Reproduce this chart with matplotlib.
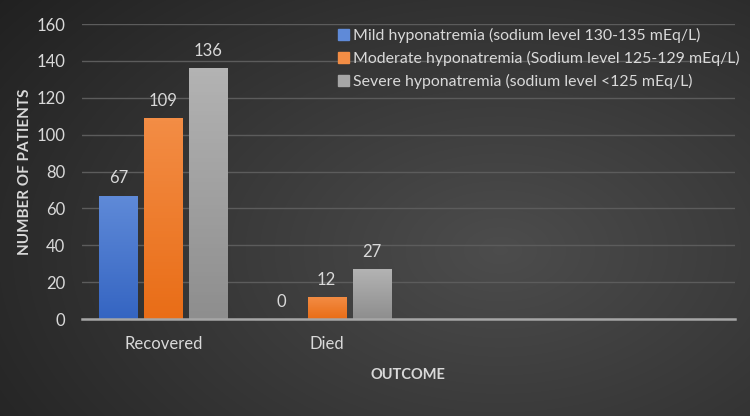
import matplotlib.pyplot as plt
import matplotlib.patches as mpatches
import numpy as np

categories = ['Recovered', 'Died', '', '']
series_names = ['Mild hyponatremia (sodium level 130-135 mEq/L)',
                'Moderate hyponatremia (Sodium level 125-129 mEq/L)',
                'Severe hyponatremia (sodium level <125 mEq/L)']
mild = [67, 0, None, None]
moderate = [109, 12, None, None]
severe = [136, 27, None, None]

colors_top = ['#5f8ad8', '#f38d45', '#b3b3b3']
colors_bot = ['#3565c2', '#e96d17', '#8e8e8e']
text_col = '#d9d9d9'

plt.rcParams['font.family'] = ['Lato', 'DejaVu Sans']


def gradient_bar(ax, rect, top, bot):
    c1 = np.array(plt.matplotlib.colors.to_rgb(top))
    c2 = np.array(plt.matplotlib.colors.to_rgb(bot))
    t = np.linspace(0, 1, 64)[:, None]
    img = (c1 * (1 - t) + c2 * t)[:, None, :]
    x, y = rect.get_x(), rect.get_y()
    w, h = rect.get_width(), rect.get_height()
    im = ax.imshow(img, extent=[x, x + w, y, y + h], aspect='auto', zorder=3,
                   origin='upper')
    im.set_clip_path(rect)


def main():
    fig = plt.figure(figsize=(7.5, 4.16), dpi=100)

    # dark background with soft light spot
    bg = fig.add_axes([0, 0, 1, 1], zorder=-10)
    yy, xx = np.mgrid[0:416, 0:750]
    d = np.sqrt(((xx - 500) / 520.0) ** 2 + ((yy - 250) / 330.0) ** 2)
    v = 0.30 - 0.14 * np.clip(d, 0, 1.3)
    bg.imshow(np.dstack([v, v, v]), aspect='auto', extent=[0, 1, 0, 1])
    bg.axis('off')

    ax = fig.add_axes([0.109, 0.233, 0.871, 0.709])
    ax.patch.set_alpha(0)

    x = np.arange(len(categories))
    w = 0.233
    gap = 0.043
    offs = [-(w + gap), 0, w + gap]
    all_vals = [mild, moderate, severe]
    handles = []
    for i, vals in enumerate(all_vals):
        xs = [x[j] + offs[i] for j in range(len(vals)) if vals[j] is not None]
        ys = [vals[j] for j in range(len(vals)) if vals[j] is not None]
        bars = ax.bar(xs, ys, width=w, color=colors_bot[i], zorder=2)
        for b, val in zip(bars, ys):
            if val > 0:
                gradient_bar(ax, b, colors_top[i], colors_bot[i])
            ax.text(b.get_x() + w / 2, val + 5, str(val), ha='center',
                    va='bottom', color=text_col, fontsize=12)
        handles.append(mpatches.Patch(color=colors_top[i] if i != 2 else '#a6a6a6',
                                      label=series_names[i]))

    ax.set_xlim(-0.5, len(categories) - 0.5)
    ax.set_ylim(0, 160)
    ax.set_yticks(range(0, 161, 20))
    ax.set_xticks(x)
    ax.set_xticklabels(categories)
    ax.grid(axis='y', color='#5c5c5c', linewidth=1, zorder=0)
    ax.set_axisbelow(True)
    for s in ['top', 'right', 'left']:
        ax.spines[s].set_visible(False)
    ax.spines['bottom'].set_color('#a6a6a6')
    ax.spines['bottom'].set_linewidth(1.8)
    ax.spines['bottom'].set_zorder(4)
    ax.tick_params(axis='both', length=0, colors=text_col, labelsize=12)
    ax.tick_params(axis='x', pad=12)
    ax.tick_params(axis='y', pad=12)

    ax.set_ylabel('NUMBER OF PATIENTS', color=text_col, fontsize=11,
                  fontweight='bold', labelpad=3)
    ax.set_xlabel('OUTCOME', color=text_col, fontsize=10.5,
                  fontweight='bold', labelpad=12)

    fig.legend(handles=handles, loc='upper left',
               bbox_to_anchor=(0.432, 0.967), frameon=False,
               fontsize=11.4, labelcolor=text_col, handlelength=0.65,
               handleheight=0.65, handletextpad=0.3, labelspacing=0.5)

    fig.savefig('out.png', dpi=100)


if __name__ == '__main__':
    main()
